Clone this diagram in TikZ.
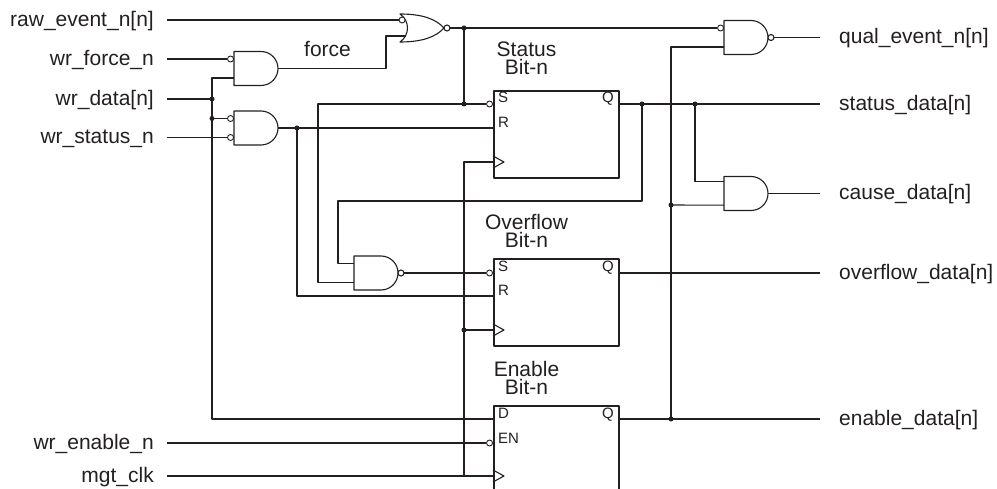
\documentclass[tikz,border=0pt]{standalone}
\usepackage{fontspec}
\setmainfont{Liberation Sans}
\definecolor{ink}{RGB}{35,31,32}
\begin{document}
\begin{tikzpicture}[x=1pt,y=-1pt,line join=round,color=ink,
  wire/.style={draw=ink,line width=1.1pt},
  gate/.style={draw=ink,line width=1.1pt},
  ffbox/.style={draw=ink,line width=1.7pt,rectangle,minimum width=125pt,minimum height=87pt,anchor=north west,inner sep=0pt},
  jdot/.style={circle,fill=ink,draw=none,inner sep=0pt,minimum size=5pt},
  bub/.style={circle,draw=ink,line width=0.9pt,fill=white,inner sep=0pt,minimum size=6pt},
  lbl/.style={inner sep=0pt,text=ink,font=\fontsize{21}{21}\selectfont},
  ttl/.style={inner sep=0pt,text=ink,align=center,anchor=south,text depth=0pt,font=\fontsize{21}{18}\selectfont},
  pinlbl/.style={inner sep=0pt,text=ink,font=\fontsize{15}{15}\selectfont},
  andg/.pic={
    \draw[gate] (0,-17) -- (27,-17) arc[start angle=-90,end angle=90,radius=17] -- (0,17) -- cycle;
    \coordinate (-in1) at (0,-9.5); \coordinate (-in2) at (0,9.5);
    \coordinate (-top) at (0,-12.3); \coordinate (-bot) at (0,11.7);
    \coordinate (-out) at (44,0);},
  nandg/.pic={
    \draw[gate] (0,-17) -- (27,-17) arc[start angle=-90,end angle=90,radius=17] -- (0,17) -- cycle;
    \draw[gate,fill=white] (47,0) circle[radius=3];
    \coordinate (-in1) at (0,-9.5); \coordinate (-in2) at (0,9.5);
    \coordinate (-out) at (50,0);},
  norg/.pic={
    \draw[gate] (0,-14) .. controls (10,-7) and (10,7) .. (0,14)
      .. controls (22,14) and (36,9) .. (44,0)
      .. controls (36,-9) and (22,-14) .. (0,-14) -- cycle;
    \draw[gate,fill=white] (47,0) circle[radius=3];
    \coordinate (-in1) at (5.5,-8); \coordinate (-in2) at (5.5,8);
    \coordinate (-out) at (50,0);},
]
\clip (0,0) rectangle (997,489);

% gates
\pic (a1) at (234,68.5) {andg};
\pic (a2) at (234,128) {andg};
\pic (nr) at (400,28) {norg};
\pic (q) at (724,37.5) {nandg};
\pic (c) at (724,193.5) {andg};
\pic (n) at (354,273) {nandg};

% flip-flops
\node[ffbox] (ffs) at (493,90) {};
\node[ffbox] (ffo) at (493,258) {};
\node[ffbox,minimum height=120pt] (ffe) at (493,405) {};

\coordinate (ffs-S) at (493,104); \coordinate (ffs-R) at (493,128);
\coordinate (ffs-C) at (493,162); \coordinate (ffs-Q) at (618,104);
\coordinate (ffo-S) at (493,273); \coordinate (ffo-R) at (493,296);
\coordinate (ffo-C) at (493,330); \coordinate (ffo-Q) at (618,273);
\coordinate (ffe-D) at (493,419); \coordinate (ffe-EN) at (493,443);
\coordinate (ffe-C) at (493,476); \coordinate (ffe-Q) at (618,419);

\draw[gate] (ffs-C) ++(0,-6) -- ++(11,6) -- ++(-11,6);
\draw[gate] (ffo-C) ++(0,-6) -- ++(11,6) -- ++(-11,6);
\draw[gate] (ffe-C) ++(0,-6) -- ++(11,6) -- ++(-11,6);

% pin labels
\node[pinlbl,anchor=base west] (ls1) at (498,103) {S};
\node[pinlbl,anchor=base west] (ls2) at (498,128) {R};
\node[pinlbl,anchor=base east] (ls3) at (614,103) {Q};
\node[pinlbl,anchor=base west] (lo1) at (498,272) {S};
\node[pinlbl,anchor=base west] (lo2) at (498,296) {R};
\node[pinlbl,anchor=base east] (lo3) at (614,272) {Q};
\node[pinlbl,anchor=base west] (le1) at (498,418) {D};
\node[pinlbl,anchor=base west] (le2) at (498,443) {EN};
\node[pinlbl,anchor=base east] (le3) at (614,418) {Q};

% block titles
\node[ttl] (tst) at (526.5,75) {Status\\Bit-n};
\node[ttl] (tov) at (526.5,248) {Overflow\\Bit-n};
\node[ttl] (ten) at (526.5,395) {Enable\\Bit-n};
\node[lbl,anchor=base west] (tforce) at (304,57) {force};

% input / output labels
\node[lbl,anchor=base east] (l1) at (154,26.5) {raw\_event\_n[n]};
\node[lbl,anchor=base east] (l2) at (154,65.5) {wr\_force\_n};
\node[lbl,anchor=base east] (l3) at (154,105.5) {wr\_data[n]};
\node[lbl,anchor=base east] (l4) at (154,144) {wr\_status\_n};
\node[lbl,anchor=base east] (l5) at (154,449.5) {wr\_enable\_n};
\node[lbl,anchor=base east] (l6) at (154,482.5) {mgt\_clk};
\node[lbl,anchor=base west] (r1) at (839,44) {qual\_event\_n[n]};
\node[lbl,anchor=base west] (r2) at (839,110.5) {status\_data[n]};
\node[lbl,anchor=base west] (r3) at (839,200) {cause\_data[n]};
\node[lbl,anchor=base west] (r4) at (839,279.5) {overflow\_data[n]};
\node[lbl,anchor=base west] (r5) at (839,425.5) {enable\_data[n]};

% wire end points
\coordinate (in-raw) at (167,20);
\coordinate (in-force) at (167,59);
\coordinate (in-data) at (167,99);
\coordinate (in-status) at (167,137.5);
\coordinate (in-en) at (167,443);
\coordinate (in-clk) at (167,476);
\coordinate (out-qual) at (820,37.5);
\coordinate (out-status) at (820,104);
\coordinate (out-cause) at (820,193.5);
\coordinate (out-ovf) at (820,273);
\coordinate (out-en) at (820,419);
\coordinate (cD) at (212,419);
\coordinate (cforce) at (386,36);
\coordinate (c318) at (318,104);
\coordinate (c338) at (338,201);
\coordinate (cclk) at (464,476);

% inversion bubbles
\node[bub,anchor=east] (bnr) at (nr-in1) {};
\node[bub,anchor=east] (ba1) at (a1-in1) {};
\node[bub,anchor=east] (ba2a) at (a2-in1) {};
\node[bub,anchor=east] (ba2b) at (a2-in2) {};
\node[bub,anchor=east] (bq) at (q-in1) {};
\node[bub,anchor=east] (bss) at (ffs-S) {};
\node[bub,anchor=east] (bos) at (ffo-S) {};
\node[bub,anchor=east] (ben) at (ffe-EN) {};

% junction dots
\node[jdot] (jd1) at (212,99) {};
\node[jdot] (jd2) at (212,118.5) {};
\node[jdot] (jn1) at (464,28) {};
\node[jdot] (jn2) at (464,104) {};
\node[jdot] (jr) at (297,128) {};
\node[jdot] (jq1) at (642,104) {};
\node[jdot] (jq2) at (695,104) {};
\node[jdot] (jc) at (671,205) {};
\node[jdot] (je) at (671,419) {};
\node[jdot] (jo) at (464,330) {};

% wires
\draw[wire] (in-raw) -- (bnr.west);
\draw[wire] (in-force) -- (ba1.west);
\draw[wire] (in-data) -- (jd1.center);
\draw[wire] (in-status) -- (ba2b.west);
\draw[wire] (a1-in2) -| (cD) -- (ffe-D);
\draw[wire] (jd2.center) -- (ba2a.west);
\draw[wire] (a1-out) -| (cforce) -- (nr-in2);
\draw[wire] (nr-out) -- (bq.west);
\draw[wire] (jn1.center) -- (jn2.center);
\draw[wire] (bss.west) -- (c318) |- (n-in2);
\draw[wire] (a2-out) -- (ffs-R);
\draw[wire] (jr.center) |- (ffo-R);
\draw[wire] (ffs-Q) -- (out-status);
\draw[wire] (jq1.center) |- (c338) |- (n-in1);
\draw[wire] (jq2.center) |- (c-top);
\draw[wire] (q-in2) -| (je.center);
\draw[wire] (jc.center) -- (c-bot);
\draw[wire] (ffe-Q) -- (out-en);
\draw[wire] (q-out) -- (out-qual);
\draw[wire] (c-out) -- (out-cause);
\draw[wire] (n-out) -- (bos.west);
\draw[wire] (ffo-Q) -- (out-ovf);
\draw[wire] (in-en) -- (ben.west);
\draw[wire] (in-clk) -- (ffe-C);
\draw[wire] (cclk) |- (ffs-C);
\draw[wire] (jo.center) -- (ffo-C);
\end{tikzpicture}
\end{document}
